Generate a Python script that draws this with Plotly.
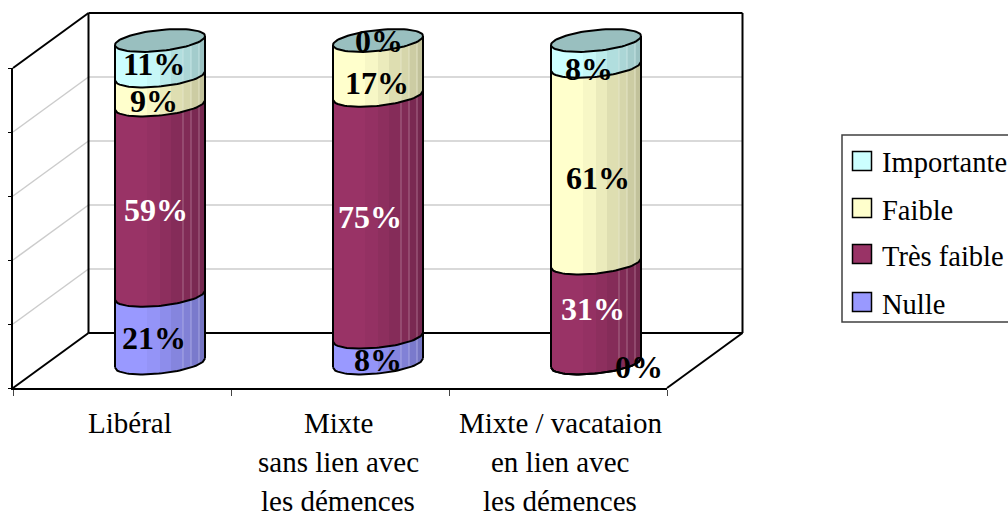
import numpy as np
import plotly.graph_objects as go

categories = ["Libéral", "Mixte", "Mixte / vacataion"]
category_lines = [["Libéral"], ["Mixte", "sans lien avec", "les démences"],
                  ["Mixte / vacataion", "en lien avec", "les démences"]]
legend_order = ["Importante", "Faible", "Très faible", "Nulle"]
nulle = [21, 8, 0]
tres_faible = [59, 75, 31]
faible = [9, 17, 61]
importante = [11, 0, 8]

series = [("Nulle", nulle, (0x99, 0x99, 0xFF), "black"),
          ("Très faible", tres_faible, (0x99, 0x33, 0x66), "white"),
          ("Faible", faible, (0xFF, 0xFF, 0xCC), "black"),
          ("Importante", importante, (0xCC, 0xFF, 0xFF), "black")]
colors = {s[0]: s[2] for s in series}

# Styling and layout constants (pixels)
W, H = 1008, 518
FONT = "Liberation Serif"
def px(x): return x / W
def py(y): return 1 - y / H

FRONT_L, FRONT_R, FRONT_B, FRONT_T = 13, 667, 388, 68
DX, DY = 75.5, 55
Y0 = 363.0
PPU = 3.225
A_PX, B_PX, S_PX = 45.0, 10.5, 4.5
XU = 218.0
A = A_PX / XU
B = B_PX / PPU
S = S_PX / PPU
EDGES = np.array([-45, -13, 0, 11, 23, 31, 39, 45]) / 45
SHADES = [1, .97, .92, .87, .84, .80, .76]
LIGHT_U = np.array([23, 31, 39]) / 45
NUDGE = {  # label offset from segment midpoint, (dx, dy) in screen pixels
    "Nulle": [(-6, 9), (0, 10), (43, 4)],
    "Très faible": [(-4, 10), (-8, 1), (-3, -4)],
    "Faible": [(-6, 11), (-1, 15), (2, 13)],
    "Importante": [(-6, 6), (1, 1), (-7, 16)],
}

def rgb(c, k=1.0, mix=0.0):
    v = [min(255, int(round(ch * k * (1 - mix) + 255 * mix))) for ch in c]
    return f"rgb({v[0]},{v[1]},{v[2]})"

def f(u):
    """Vertical drop (in value units) of the cylinder's front arc at u in [-1, 1]."""
    return B * np.sqrt(np.clip(1 - u ** 2, 0, 1)) - S * u

fig = go.Figure()

# Axis carrier for the front axes
fig.add_trace(go.Scatter(x=categories, y=[0, 0, 0], mode="markers", marker=dict(opacity=0),
                         showlegend=False, hoverinfo="skip", xaxis="x", yaxis="y"))

# Stacked bars (core of each cylinder)
xs = list(range(len(categories)))
for name, vals, col, _ in series:
    fig.add_trace(go.Bar(x=xs, y=vals, name=name, width=2 * A * 0.85, marker=dict(color=rgb(col), line=dict(width=0)),
                         showlegend=False, hoverinfo="skip", xaxis="x2", yaxis="y2"))

# Shaded strips and highlights following the cylinder's curve
outline_x, outline_y = [], []
base = np.zeros(len(xs))
for name, vals, col, _ in series:
    vals = np.array(vals, float)
    for k in range(len(SHADES)):
        sx, sy = [], []
        for i in xs:
            if vals[i] <= 0:
                continue
            u = np.linspace(EDGES[k], EDGES[k + 1], 12)
            sx += list(i + A * u) + list(i + A * u[::-1]) + [None]
            sy += list(base[i] - f(u)) + list(base[i] + vals[i] - f(u[::-1])) + [None]
        fig.add_trace(go.Scatter(x=sx, y=sy, mode="lines", fill="toself", fillcolor=rgb(col, SHADES[k]),
                                 line=dict(width=0), showlegend=False, hoverinfo="skip", xaxis="x2", yaxis="y2"))
    lx, ly = [], []
    for i in xs:
        if vals[i] <= 0:
            continue
        for u in LIGHT_U:
            lx += [i + A * u, i + A * u, None]
            ly += [base[i] - f(u), base[i] + vals[i] - f(u), None]
    fig.add_trace(go.Scatter(x=lx, y=ly, mode="lines", line=dict(width=1, color=rgb(col, 0.85, 0.3)),
                             showlegend=False, hoverinfo="skip", xaxis="x2", yaxis="y2"))
    u = np.linspace(-1, 1, 40)
    for i in xs:
        if vals[i] > 0 or base[i] == 0:
            outline_x += list(i + A * u) + [None]
            outline_y += list(base[i] - f(u)) + [None]
    base = base + vals

# Top ellipse
t = np.linspace(0, 2 * np.pi, 80)
tx, ty = [], []
for i in xs:
    u = np.cos(t)
    tx += list(i + A * u) + [None]
    ty += list(base[i] - (B * np.sin(t) - S * u)) + [None]
    outline_x += [i - A, i - A, None, i + A, i + A, None]
    outline_y += [-f(-1.0), base[i] - f(-1.0), None, -f(1.0), base[i] - f(1.0), None]
fig.add_trace(go.Scatter(x=tx, y=ty, mode="lines", fill="toself", fillcolor=rgb(colors["Importante"], 0.75),
                         line=dict(width=2, color="black"), showlegend=False, hoverinfo="skip", xaxis="x2", yaxis="y2"))
fig.add_trace(go.Scatter(x=outline_x, y=outline_y, mode="lines", line=dict(width=2, color="black"),
                         showlegend=False, hoverinfo="skip", xaxis="x2", yaxis="y2"))

annotations = []
# Data labels
base = np.zeros(len(xs))
for name, vals, col, tc in series:
    for i in xs:
        dx, dy = NUDGE[name][i]
        annotations.append(dict(x=i, y=base[i] + vals[i] / 2, xref="x2", yref="y2", text=f"<b>{vals[i]}%</b>",
                                showarrow=False, xshift=dx, yshift=-dy, yanchor="middle",
                                font=dict(family=FONT, size=32, color=tc)))
    base = base + np.array(vals)

# Category labels
for i, lines in enumerate(category_lines):
    for j, line in enumerate(lines):
        annotations.append(dict(x=categories[i], y=py(423 + 39 * j), xref="x", yref="paper", text=line,
                                showarrow=False, xshift=[8, -2, 2][i], yanchor="middle",
                                font=dict(family=FONT, size=29, color="black")))

# Walls, floor, gridlines
BL = dict(color="black", width=2)
GR = dict(color="#cccccc", width=1.5)
shapes = []
def seg(x0, y0, x1, y1, line):
    shapes.append(dict(type="line", xref="paper", yref="paper", x0=px(x0), y0=py(y0), x1=px(x1), y1=py(y1),
                       line=line, layer="below"))
step = (FRONT_B - FRONT_T) / 5
for k in range(1, 5):
    yy = FRONT_B - k * step
    seg(FRONT_L, yy, FRONT_L + DX, yy - DY, GR)
    seg(FRONT_L + DX, yy - DY, FRONT_R + DX, yy - DY, GR)
seg(FRONT_L, FRONT_T, FRONT_L + DX, FRONT_T - DY, BL)
seg(FRONT_L + DX, FRONT_T - DY, FRONT_R + DX, FRONT_T - DY, BL)
seg(FRONT_L + DX, FRONT_T - DY, FRONT_L + DX, FRONT_B - DY, BL)
seg(FRONT_R + DX, FRONT_T - DY, FRONT_R + DX, FRONT_B - DY, BL)
seg(FRONT_L + DX, FRONT_B - DY, FRONT_R + DX, FRONT_B - DY, BL)
seg(FRONT_L, FRONT_B, FRONT_L + DX, FRONT_B - DY, BL)
seg(FRONT_R, FRONT_B, FRONT_R + DX, FRONT_B - DY, BL)

# Legend, whose box runs off the right edge of the picture
shapes.append(dict(type="rect", xref="paper", yref="paper", x0=px(842), x1=px(1030), y0=py(322), y1=py(135),
                   line=dict(color="#404040", width=1.5), fillcolor="white", layer="below"))
for name, yc in zip(legend_order, [161, 208, 254, 302]):
    shapes.append(dict(type="rect", xref="paper", yref="paper", x0=px(852.5), x1=px(871.5), y0=py(yc + 9.5), y1=py(yc - 9.5),
                       line=dict(color="black", width=1.5), fillcolor=rgb(colors[name]), layer="below"))
    annotations.append(dict(x=px(880), y=py(yc + 2), xref="paper", yref="paper", xanchor="left", yanchor="middle",
                            text=name, showarrow=False, font=dict(family=FONT, size=28.5, color="black")))

fig.update_layout(
    width=W, height=H, margin=dict(l=0, r=0, t=0, b=0), autosize=False,
    paper_bgcolor="white", plot_bgcolor="rgba(0,0,0,0)", barmode="stack", showlegend=False,
    shapes=shapes, annotations=annotations,
    xaxis=dict(domain=[px(FRONT_L), px(FRONT_R)], type="category", categoryorder="array", categoryarray=categories,
               range=[-0.5, 2.5], tickson="boundaries", ticks="outside", ticklen=6, tickwidth=1, tickcolor="#444444",
               showticklabels=False, showline=True, linecolor="black", linewidth=2, showgrid=False, zeroline=False,
               fixedrange=True, anchor="y"),
    yaxis=dict(domain=[py(FRONT_B), py(FRONT_T)], range=[0, 100], dtick=20, ticks="outside", ticklen=3, tickwidth=1,
               tickcolor="black", showticklabels=False, showline=True, linecolor="black", linewidth=2, showgrid=False,
               zeroline=False, fixedrange=True, anchor="x"),
    xaxis2=dict(domain=[px(FRONT_L + 38), px(FRONT_R + 38)], range=[-0.5, 2.5], visible=False, anchor="y2", fixedrange=True),
    yaxis2=dict(domain=[py(396), py(4)], range=[(Y0 - 396) / PPU, (Y0 - 4) / PPU], visible=False, anchor="x2", fixedrange=True),
)

fig.write_html("out.html", config=dict(displayModeBar=False),
               post_script="document.body.style.margin='0';document.body.style.overflow='hidden';")
